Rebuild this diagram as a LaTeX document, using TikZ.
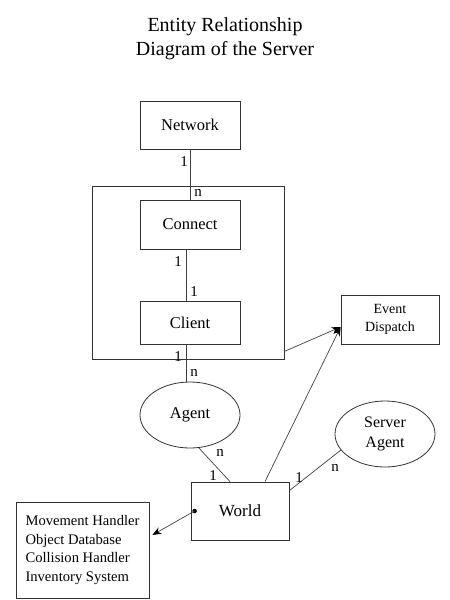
\documentclass[tikz,border=0pt]{standalone}
\usepackage{fontspec}
\setmainfont{Liberation Serif}
\usetikzlibrary{arrows.meta,shapes.geometric}
\begin{document}
\begin{tikzpicture}[x=1pt,y=-1pt,
  box/.style={draw=black!80, line width=0.8pt, inner sep=0pt, font=\fontsize{16.5}{19}\selectfont},
  ell/.style={box, ellipse, minimum width=100pt, minimum height=66pt},
  lab/.style={inner sep=0pt, font=\fontsize{15}{15}\selectfont},
  conn/.style={line width=0.7pt, draw=black!75},
  arr/.style={conn, -{Stealth[length=9pt,width=7pt,black]}}
]
\useasboundingbox (0,0) rectangle (450,600);
\node[align=center, inner sep=0pt, font=\fontsize{20}{24}\selectfont] (title) at (225,39) {Entity Relationship\\Diagram of the Server};

\node[box, minimum width=192pt, minimum height=173pt] (outer) at (188,272.5) {};
\node[box, minimum width=100pt, minimum height=48pt] (net) at (190,125) {Network};
\node[box, minimum width=100pt, minimum height=49pt] (con) at (190,224.5) {Connect};
\node[box, minimum width=100pt, minimum height=43pt] (cli) at (190,322.5) {Client};
\node[box, minimum width=98pt, minimum height=49pt, align=center, font=\fontsize{14}{18}\selectfont] (ev) at (390,319.5) {Event\\Dispatch};
\node[ell] (agent) at (190,415) {Agent};
\node[ell, align=center, font=\fontsize{16}{20}\selectfont] (sag) at (385,434) {Server\\Agent};
\node[box, minimum width=98pt, minimum height=58pt, font=\fontsize{17}{20}\selectfont] (world) at (240,511) {World};
\node[box, minimum width=133pt, minimum height=96pt, align=left, font=\fontsize{14.6}{18.5}\selectfont] (list) at (82.5,550) {Movement Handler\\Object Database\\Collision Handler\\Inventory System};

\draw[conn] (net.south) -- (con.north);
\draw[conn] ([xshift=-4pt]con.south) -- ([xshift=-4pt]cli.north);
\draw[conn] ([xshift=-4pt]cli.south) -- ([xshift=-4pt]agent.north);
\draw[arr] ([yshift=8pt]outer.south east) -- ([yshift=-7.5pt]ev.west);
\draw[arr] ([xshift=25pt]world.north) -- ([yshift=-7.5pt]ev.west);
\draw[conn] (agent.-75) -- ([xshift=-10pt]world.north);
\draw[conn] ([yshift=-9pt]world.north east) -- (sag.200);
\node[circle, fill, inner sep=0pt, minimum size=4.5pt] (dot) at ([xshift=4pt]world.west) {};
\draw[arr] (dot.center) -- ([xshift=3pt,yshift=15pt]list.east);

\node[lab] (l1) at (184,162) {1};
\node[lab] (l2) at (198,193) {n};
\node[lab] (l3) at (178,262) {1};
\node[lab] (l4) at (194,292) {1};
\node[lab] (l5) at (178,357) {1};
\node[lab] (l6) at (194,373) {n};
\node[lab] (l7) at (220,453) {n};
\node[lab] (l8) at (213,476) {1};
\node[lab] (l9) at (299,478) {1};
\node[lab] (l10) at (335,468) {n};
\end{tikzpicture}
\end{document}
